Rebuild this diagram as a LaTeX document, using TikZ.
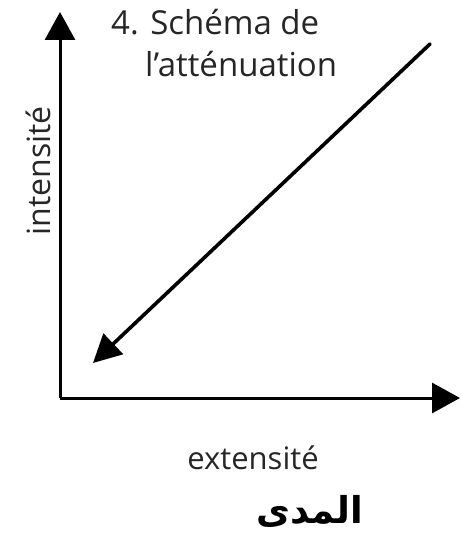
\documentclass[tikz,border=0pt]{standalone}
\usepackage{fontspec}
\setmainfont{Open Sans}
\newfontfamily\arabicfont[Script=Arabic]{DejaVu Sans}
\TeXXeTstate=1
\usetikzlibrary{arrows.meta}
\begin{document}
\begin{tikzpicture}[x=1pt,y=-1pt,
  axis/.style={line width=3pt,-{Triangle[length=28pt,width=30pt]}},
  lbl/.style={inner sep=0pt,text=black!85}]
\useasboundingbox (0,0) rectangle (461,537);
\coordinate (O) at (60,398);
\coordinate (Ytop) at (60,12);
\coordinate (Xend) at (460,398);
\coordinate (Dstart) at (430,44);
\coordinate (Dend) at (93,363);
\draw[axis] (O) -- (Ytop);
\draw[axis] (O) -- (Xend);
\draw[line width=3.6pt,line cap=round,-{Triangle[length=28pt,width=28pt]}] (Dstart) -- (Dend);
\node[lbl,anchor=base west,font=\fontsize{33}{38}\selectfont] (t1) at (111,35) {4. Schéma de};
\node[lbl,anchor=base west,font=\fontsize{33}{38}\selectfont] (t2) at (145,77) {l’atténuation};
\node[lbl,anchor=base,rotate=90,font=\fontsize{32}{36}\selectfont] (yl) at (50,171) {intensité};
\node[lbl,anchor=base,font=\fontsize{31}{36}\selectfont] (xl) at (253,469) {extensité};
\node[inner sep=0pt,anchor=base,font=\fontsize{37}{40}\selectfont\bfseries] (ar) at (310,523) {\arabicfont\beginR المدى\endR};
\end{tikzpicture}
\end{document}
